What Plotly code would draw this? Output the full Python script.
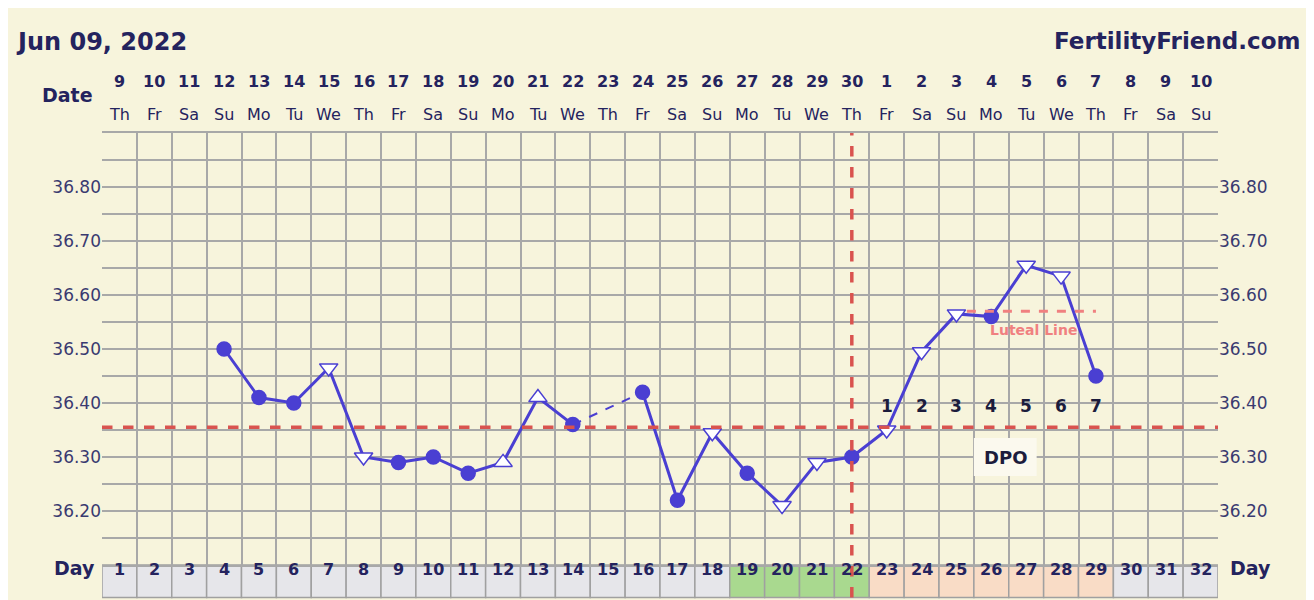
import plotly.graph_objects as go

days = list(range(1, 33))
dates = [9,10,11,12,13,14,15,16,17,18,19,20,21,22,23,24,25,26,27,28,29,30,1,2,3,4,5,6,7,8,9,10]
weekdays = ["Th","Fr","Sa","Su","Mo","Tu","We"] * 5
weekdays = weekdays[:32]
temp_days = [4,5,6,7,8,9,10,11,12,13,14,16,17,18,19,20,21,22,23,24,25,26,27,28,29]
temps = [36.50,36.41,36.40,36.465,36.30,36.29,36.30,36.27,36.29,36.41,36.36,36.42,36.22,36.345,36.27,36.21,36.29,36.30,36.35,36.495,36.565,36.56,36.655,36.635,36.45]
markers = ["c","c","c","d","d","c","c","c","u","u","c","c","c","d","c","d","d","c","d","d","d","c","d","d","c"]
coverline = 36.355
ovulation_day = 22
luteal = 36.57
dpo_days = [23,24,25,26,27,28,29]
dpo_labels = ["1","2","3","4","5","6","7"]
ytick_vals = [36.2,36.3,36.4,36.5,36.6,36.7,36.8]

BLUE = "#4a3fd2"
NAVY = "#24235e"
BG = "#f7f4dc"
RED = "#d9534f"
FONT = "DejaVu Sans"

fig = go.Figure()
lx, ly = [], []
for d, t in zip(temp_days, temps):
    if lx and d - lx[-1] > 1:
        lx.append(None); ly.append(None)
    lx.append(d); ly.append(t)
fig.add_trace(go.Scatter(x=lx, y=ly, mode="lines", line=dict(color=BLUE, width=3), hoverinfo="skip"))
i14, i16 = temp_days.index(14), temp_days.index(16)
fig.add_trace(go.Scatter(x=[14, 16], y=[temps[i14], temps[i16]], mode="lines",
                         line=dict(color=BLUE, width=2, dash="dash")))
sym = {"c": ("circle", BLUE), "d": ("triangle-down", "white"), "u": ("triangle-up", "white")}
for k, (s, fill) in sym.items():
    xs = [d for d, m in zip(temp_days, markers) if m == k]
    ys = [t for t, m in zip(temps, markers) if m == k]
    fig.add_trace(go.Scatter(x=xs, y=ys, mode="markers",
                             marker=dict(symbol=s, size=14 if k == "c" else 16, color=fill,
                                         line=dict(color=BLUE, width=1.5))))
fig.add_trace(go.Scatter(x=[1], y=[36.5], yaxis="y2", mode="markers", marker=dict(opacity=0)))

shapes = []
for d in days:
    if 19 <= d <= 22:
        c = "#a9d98f"
    elif 23 <= d <= 29:
        c = "#f9dcc6"
    else:
        c = "#e6e6ea"
    shapes.append(dict(type="rect", xref="x", yref="paper", x0=d-0.5, x1=d+0.5, y0=-0.075, y1=0,
                       fillcolor=c, line=dict(color="#a0a0a0", width=1.5), layer="below"))
shapes.append(dict(type="line", xref="paper", yref="y", x0=0, x1=1, y0=coverline, y1=coverline,
                   line=dict(color=RED, width=3.5, dash="dash")))
shapes.append(dict(type="line", xref="x", yref="paper", x0=ovulation_day, x1=ovulation_day, y0=-0.075, y1=1,
                   line=dict(color=RED, width=3.5, dash="dash")))
shapes.append(dict(type="line", xref="x", yref="y", x0=25.3, x1=29, y0=luteal, y1=luteal,
                   line=dict(color="#f08080", width=3, dash="dash")))
shapes.append(dict(type="rect", xref="x", yref="y", x0=25.5, x1=27.3, y0=36.265, y1=36.335,
                   fillcolor="#fbf9ee", line=dict(width=0)))

ann = []
def px(xp, yp, text, size, bold=False, color=NAVY):
    ann.append(dict(text=("<b>%s</b>" % text) if bold else text, x=xp, y=yp, xref="x", yref="paper",
                    showarrow=False, font=dict(size=size, color=color, family=FONT)))
for d, dt, wd in zip(days, dates, weekdays):
    px(d, 1.145, str(dt), 16, True)
    px(d, 1.07, wd, 16)
    px(d, -0.038, str(d), 16, True)
for d, l in zip(dpo_days, dpo_labels):
    ann.append(dict(text="<b>%s</b>" % l, x=d, y=36.395, xref="x", yref="y", showarrow=False,
                    font=dict(size=17, color="#1c1c3c", family=FONT)))
ann.append(dict(text="<b>DPO</b>", x=26.4, y=36.30, xref="x", yref="y", showarrow=False,
                font=dict(size=18, color="#1c1c3c", family=FONT)))
ann.append(dict(text="<b>Luteal Line</b>", x=27.2, y=36.535, xref="x", yref="y", showarrow=False,
                font=dict(size=14, color="#f08080", family=FONT)))

W, H, L, R, T, B = 1306, 592, 94, 96, 125, 35
OX, OY = 8, 8
header = [
    ("<b>Jun 09, 2022</b>", 14, 26, 24, "left"),
    ("<b>FertilityFriend.com</b>", 1302, 26, 23, "right"),
    ("<b>Date</b>", 67, 82, 19, "center"),
    ("<b>Day</b>", 74, 581, 19, "center"),
    ("<b>Day</b>", 1250, 581, 19, "center"),
]
for t, x, y, s, xa in header:
    ann.append(dict(text=t, x=(x - OX - L) / (W - L - R), y=1 - (y - OY - T) / (H - T - B),
                    xref="paper", yref="paper", showarrow=False, xanchor=xa,
                    font=dict(size=s, color=NAVY, family=FONT)))

yvals = [round(36.10 + 0.05 * i, 2) for i in range(17)]
ytext = ["%.2f" % v if any(abs(v - t) < 1e-6 for t in ytick_vals) else "" for v in yvals]
yax = dict(range=[36.10, 36.90], tickvals=yvals, ticktext=ytext, showgrid=True, gridcolor="#a8a8a8",
           gridwidth=1.5, zeroline=False, ticks="", tickfont=dict(size=17, color="#3a3a70", family=FONT),
           fixedrange=True)
fig.update_layout(
    width=W, height=H, margin=dict(l=L, r=R, t=T, b=B),
    paper_bgcolor=BG, plot_bgcolor=BG, showlegend=False, shapes=shapes, annotations=ann,
    xaxis=dict(range=[0.5, 32.5], tick0=0.5, dtick=1, showgrid=True, gridcolor="#a8a8a8", gridwidth=1.5,
               showticklabels=False, zeroline=False, showline=True, linecolor="#a8a8a8", mirror=True, linewidth=1.5),
    yaxis=yax,
    yaxis2=dict(yax, overlaying="y", side="right", showgrid=False),
)
fig.write_html("out.html")
